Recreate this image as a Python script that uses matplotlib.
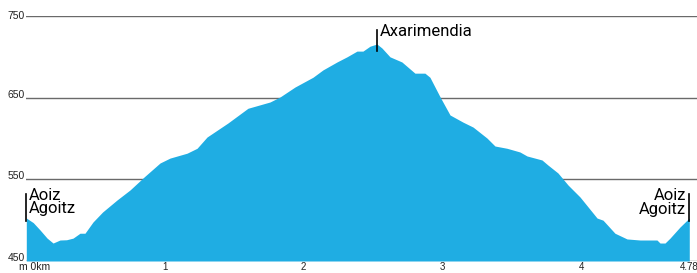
import matplotlib.pyplot as plt
import matplotlib.transforms as mtransforms

# elevation profile (km, m)
dist = [0.0, 0.05, 0.099, 0.15, 0.193, 0.243, 0.29, 0.337, 0.387, 0.423, 0.481, 0.55,
        0.654, 0.748, 0.85, 0.964, 1.036, 1.159, 1.231, 1.303, 1.454, 1.598, 1.757,
        1.829, 1.937, 2.067, 2.139, 2.24, 2.312, 2.384, 2.427, 2.478, 2.528, 2.564,
        2.622, 2.708, 2.802, 2.874, 2.91, 2.983, 3.055, 3.149, 3.221, 3.321, 3.379,
        3.466, 3.559, 3.61, 3.718, 3.761, 3.833, 3.906, 3.992, 4.115, 4.158, 4.244,
        4.331, 4.425, 4.547, 4.569, 4.605, 4.641, 4.713, 4.78]
elev = [502.6, 497, 488, 478, 472, 475.7, 476, 478, 484, 484, 497.8, 510,
        524.7, 537, 553, 570, 576, 582, 588, 601.8, 619, 637, 644.7,
        650.8, 663, 675, 684, 693.7, 700, 707, 707, 713, 715.7, 710.8,
        700, 693.7, 680, 680, 675, 651, 628.8, 620, 614, 600.6, 590.8,
        588, 583.5, 578.6, 573.7, 567.5, 557.8, 543, 528.4, 502.6, 500, 484,
        477, 475.7, 475.7, 472, 472, 478, 491.6, 502.6]

grid_levels = [450, 550, 650, 750]
x_ticks = [1, 2, 3, 4, 4.78]
x_tick_labels = ['1', '2', '3', '4', '4.78']

place_km = [0.0, 2.528, 4.78]
place_elev = [502.6, 715.7, 502.6]
place_names = ['Aoiz\nAgoitz', 'Axarimendia', 'Aoiz\nAgoitz']

# marker styling: side of text, line bottom/top offsets (m)
place_side = ['left', 'left', 'right']
line_span = [(-4, 30), (-9, 17), (-4, 29)]

W, H = 697, 273
fig = plt.figure(figsize=(W / 100, H / 100), dpi=100)
ax = fig.add_axes([26.3 / W, 12 / H, (W - 26.3) / W, 245 / H])
ax.set_xlim(0, (W - 26.3) / 138.7)
ax.set_ylim(450, 750)
ax.axis('off')

for lv in grid_levels:
    ax.axhline(lv, color='#6a6a6a', lw=1.0, zorder=1)
    ax.text(-0.01, lv, str(lv), ha='right', va='center' if lv == 750 else 'baseline',
            fontsize=7.5, family='Liberation Sans', color='#222222')

ax.fill_between(dist, 450, elev, color='#1fade3', lw=0, zorder=2)

for t, lab in zip(x_ticks, x_tick_labels):
    ax.text(t, 449, lab, ha='center', va='top', fontsize=7, family='Liberation Sans',
            color='#222222')
ax.text(0.063, 449, 'm 0km', ha='center', va='top', fontsize=7.5,
        family='Liberation Sans', color='#222222')

for x, y, name, side, (lo, hi) in zip(place_km, place_elev, place_names,
                                      place_side, line_span):
    ax.plot([x, x], [y + lo, y + hi], color='black', lw=1.2, zorder=3, clip_on=False)
    dx = 3 if side == 'left' else -3
    tr = ax.transData + mtransforms.ScaledTranslation(dx / 100, 6 / 100,
                                                      fig.dpi_scale_trans)
    ax.text(x, y + hi, name, ha=side, va='top', fontsize=12, family='Roboto',
            linespacing=0.9, transform=tr, zorder=4)

fig.savefig('out.png', dpi=100)
